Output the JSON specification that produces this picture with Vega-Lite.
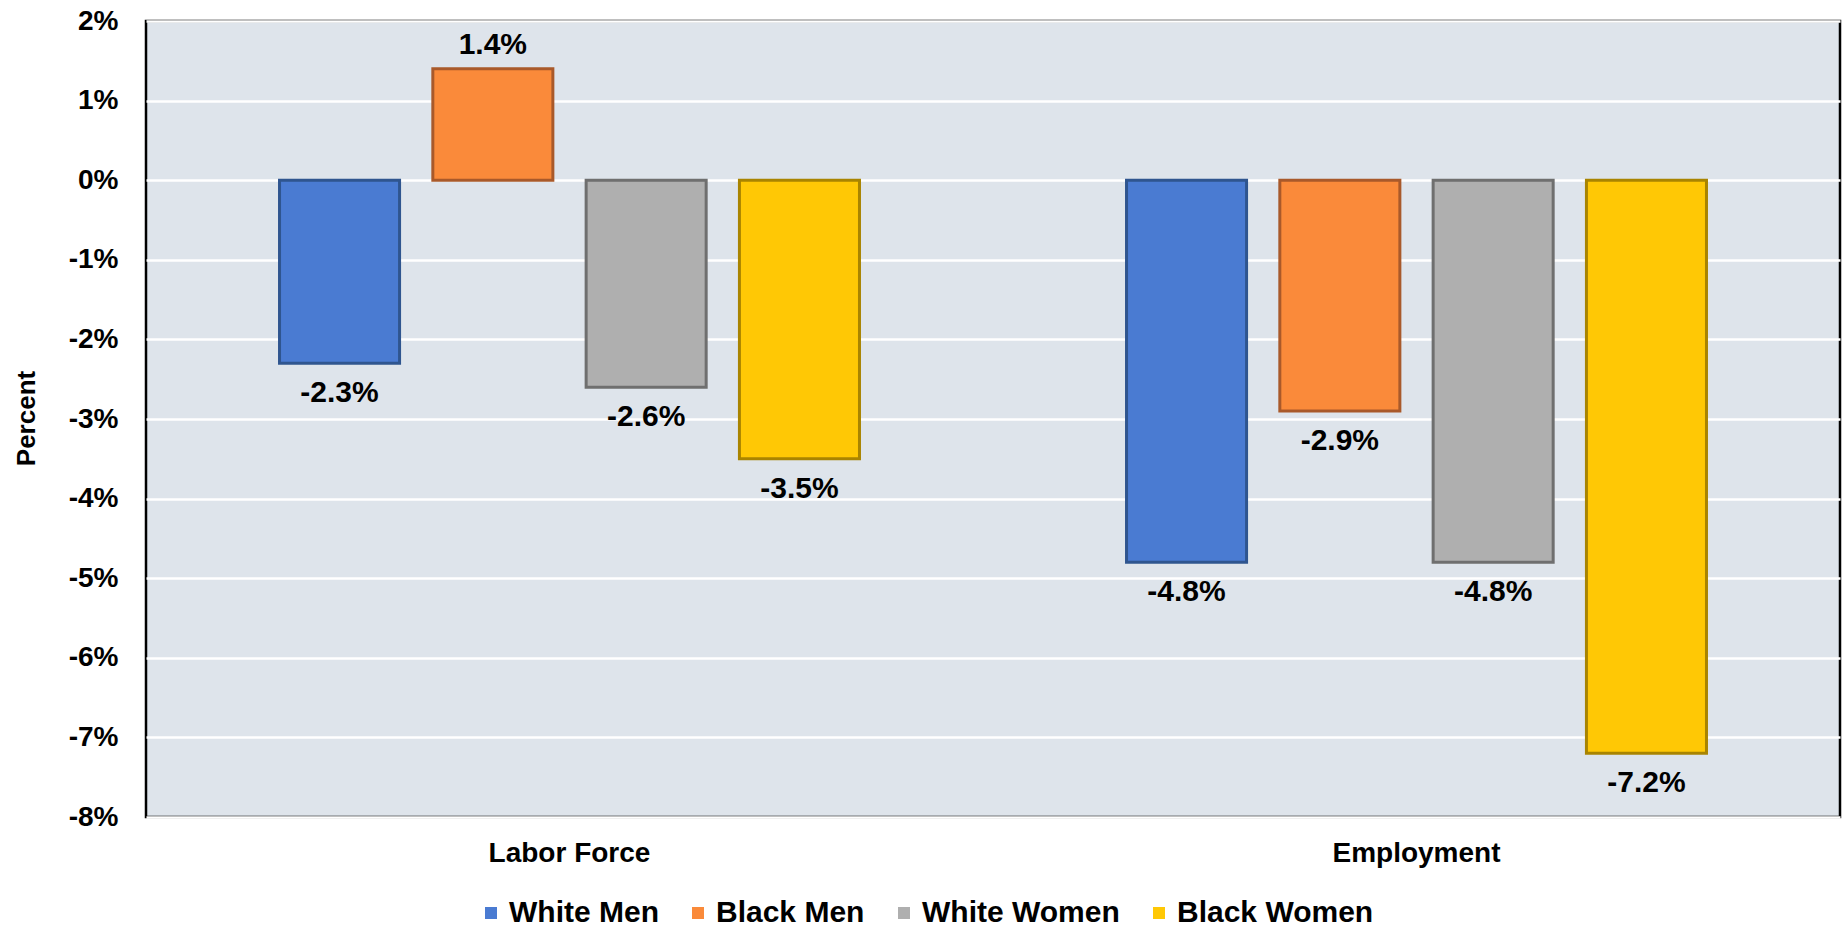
{
  "$schema": "https://vega.github.io/schema/vega-lite/v6.json",
  "width": 1694,
  "height": 796,
  "autosize": {"type": "none"},
  "padding": {"left": 146, "top": 21, "right": 5, "bottom": 111},
  "background": "white",
  "config": {
    "view": {"fill": "#DEE4EB", "stroke": "#000000", "strokeWidth": 2.5},
    "font": "Liberation Sans"
  },
  "data": {
    "values": [
      {"measure": "Labor Force", "group": "White Men", "value": -2.3},
      {"measure": "Labor Force", "group": "Black Men", "value": 1.4},
      {"measure": "Labor Force", "group": "White Women", "value": -2.6},
      {"measure": "Labor Force", "group": "Black Women", "value": -3.5},
      {"measure": "Employment", "group": "White Men", "value": -4.8},
      {"measure": "Employment", "group": "Black Men", "value": -2.9},
      {"measure": "Employment", "group": "White Women", "value": -4.8},
      {"measure": "Employment", "group": "Black Women", "value": -7.2}
    ]
  },
  "transform": [{"calculate": "datum.value + '%'", "as": "label"}],
  "encoding": {
    "x": {
      "field": "measure", "type": "nominal",
      "sort": ["Labor Force", "Employment"],
      "scale": {"paddingInner": 0.276, "paddingOuter": 0.138},
      "axis": {"title": null, "labelAngle": 0, "domain": false, "ticks": false, "labelPadding": 22,
               "labelFontSize": 28, "labelFontWeight": "bold", "labelColor": "#000000"}
    },
    "xOffset": {
      "field": "group", "type": "nominal",
      "sort": ["White Men", "Black Men", "White Women", "Black Women"],
      "scale": {"paddingInner": 0.217, "paddingOuter": 0.1085}
    },
    "y": {
      "field": "value", "type": "quantitative",
      "scale": {"domain": [-8, 2], "nice": false, "zero": false},
      "axis": {
        "values": [-8, -7, -6, -5, -4, -3, -2, -1, 0, 1, 2],
        "labelExpr": "datum.value + '%'",
        "domain": false, "ticks": false, "labelPadding": 28,
        "labelFontSize": 28, "labelFontWeight": "bold", "labelColor": "#000000",
        "grid": true, "gridColor": "#FFFFFF", "gridWidth": 2.5,
        "title": "Percent", "titleFontSize": 26, "titleFontWeight": "bold", "titleColor": "#000000",
        "titleAngle": -90, "titleX": -120, "titleY": 397, "titleAlign": "center", "titleBaseline": "middle"
      }
    }
  },
  "layer": [
    {
      "mark": {"type": "bar", "strokeWidth": 3},
      "encoding": {
        "color": {
          "field": "group", "type": "nominal",
          "sort": ["White Men", "Black Men", "White Women", "Black Women"],
          "scale": {"domain": ["White Men", "Black Men", "White Women", "Black Women"],
                    "range": ["#4A7BD2", "#FA8A3A", "#AFAFAF", "#FFC805"]},
          "legend": {
            "title": null, "orient": "none", "legendX": 330, "legendY": 877,
            "direction": "horizontal", "symbolType": "square", "symbolSize": 144,
            "labelFontSize": 30, "labelFontWeight": "bold", "labelColor": "#000000", "labelLimit": 0,
            "labelOffset": 3, "columnPadding": 24, "symbolStrokeWidth": 0
          }
        },
        "stroke": {
          "field": "group", "type": "nominal",
          "scale": {"domain": ["White Men", "Black Men", "White Women", "Black Women"],
                    "range": ["#2F558F", "#A9592A", "#6F6F6F", "#A98400"]},
          "legend": null
        }
      }
    },
    {
      "transform": [{"filter": "datum.value < 0"}],
      "mark": {"type": "text", "dy": 30, "baseline": "middle", "fontSize": 30, "fontWeight": "bold", "color": "#000000"},
      "encoding": {"text": {"field": "label", "type": "nominal"}}
    },
    {
      "transform": [{"filter": "datum.value >= 0"}],
      "mark": {"type": "text", "dy": -24, "baseline": "middle", "fontSize": 30, "fontWeight": "bold", "color": "#000000"},
      "encoding": {"text": {"field": "label", "type": "nominal"}}
    }
  ]
}
